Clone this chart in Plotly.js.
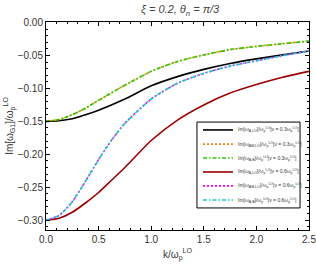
<!DOCTYPE html>
<html>
<head>
<meta charset="utf-8">
<script src="https://cdn.plot.ly/plotly-3.0.1.min.js"></script>
<style>html,body{margin:0;padding:0;background:#fff;}#plot{width:316px;height:273px;}</style>
</head>
<body>
<div id="plot"></div>
<script>
// k / omega_p^LO
const kA = [0, 0.125, 0.25, 0.375, 0.5, 0.75, 1.0, 1.25, 1.5, 1.75, 2.0, 2.25, 2.5];
// nu = 0.3
const blackY  = [-0.150, -0.149, -0.146, -0.140, -0.133, -0.116, -0.096, -0.082, -0.071, -0.062, -0.055, -0.049, -0.043];
const orangeY = [-0.150, -0.147, -0.140, -0.130, -0.118, -0.095, -0.074, -0.059, -0.049, -0.041, -0.036, -0.032, -0.028];
const greenY  = [-0.150, -0.147, -0.140, -0.130, -0.118, -0.095, -0.074, -0.059, -0.049, -0.041, -0.036, -0.032, -0.028];
// nu = 0.6
const kB = [0, 0.125, 0.25, 0.375, 0.5, 0.625, 0.75, 1.0, 1.25, 1.5, 1.75, 2.0, 2.25, 2.5];
const redY     = [-0.300, -0.297, -0.288, -0.274, -0.258, -0.239, -0.220, -0.179, -0.148, -0.125, -0.107, -0.094, -0.083, -0.074];
const magentaY = [-0.300, -0.293, -0.272, -0.241, -0.208, -0.178, -0.153, -0.116, -0.092, -0.077, -0.066, -0.058, -0.050, -0.043];
const cyanY    = [-0.300, -0.293, -0.272, -0.241, -0.208, -0.178, -0.153, -0.116, -0.092, -0.077, -0.066, -0.058, -0.050, -0.043];

const names = [
  "Im[ω<sub>A,LO</sub>]/ω<sub>p</sub><sup>LO</sup>[ν = 0.3ω<sub>p</sub><sup>LO</sup>]",
  "Im[ω<sub>AM,LO</sub>]/ω<sub>p</sub><sup>LO</sup>[ν = 0.3ω<sub>p</sub><sup>LO</sup>]",
  "Im[ω<sub>A,B</sub>]/ω<sub>p</sub><sup>LO</sup>[ν = 0.3ω<sub>p</sub><sup>LO</sup>]",
  "Im[ω<sub>A,LO</sub>]/ω<sub>p</sub><sup>LO</sup>[ν = 0.6ω<sub>p</sub><sup>LO</sup>]",
  "Im[ω<sub>AM,LO</sub>]/ω<sub>p</sub><sup>LO</sup>[ν = 0.6ω<sub>p</sub><sup>LO</sup>]",
  "Im[ω<sub>A,B</sub>]/ω<sub>p</sub><sup>LO</sup>[ν = 0.6ω<sub>p</sub><sup>LO</sup>]"
];
const colors = ['#000000', '#ff7f0e', '#22cc00', '#990000', '#ff00ff', '#11cccc'];
const dashes = ['solid', '2px,2px', '4px,2px,1.5px,2px', 'solid', '2px,2px', '4px,2px,1.5px,2px'];
const xs = [kA, kA, kA, kB, kB, kB];
const ys = [blackY, orangeY, greenY, redY, magentaY, cyanY];

const data = names.map((n, i) => ({
  x: xs[i], y: ys[i], name: n, type: 'scatter', mode: 'lines', showlegend: false,
  line: {color: colors[i], width: 1.6, dash: dashes[i], shape: 'spline', smoothing: 0.6}
}));

// manual legend (paper coordinates)
const legX0 = 0.574, legX1 = 0.966, legY0 = 0.106, legY1 = 0.519;
const sampX0 = 0.597, sampX1 = 0.711, textX = 0.724;
const rowY = [0.481, 0.413, 0.346, 0.279, 0.212, 0.144];

const shapes = [{type: 'rect', xref: 'paper', yref: 'paper', x0: legX0, x1: legX1, y0: legY0, y1: legY1,
  fillcolor: '#fff', line: {color: '#000', width: 1}}];
const annotations = [];
names.forEach((n, i) => {
  shapes.push({type: 'line', xref: 'paper', yref: 'paper', x0: sampX0, x1: sampX1, y0: rowY[i], y1: rowY[i],
    line: {color: colors[i], width: 1.6, dash: dashes[i]}});
  annotations.push({xref: 'paper', yref: 'paper', x: textX, y: rowY[i], xanchor: 'left', yanchor: 'middle',
    text: n, showarrow: false, font: {family: 'Liberation Sans, Arial, sans-serif', size: 5, color: '#333'}});
});

const axisCommon = {
  showline: true, linecolor: '#000', linewidth: 1, mirror: 'allticks',
  ticks: 'inside', ticklen: 4, tickwidth: 1, tickcolor: '#000',
  showgrid: false, zeroline: false, ticklabeloverflow: 'allow',
  tickfont: {family: 'Liberation Sans, Arial, sans-serif', size: 10, color: '#333'}
};

const layout = {
  width: 316, height: 273,
  margin: {l: 46, r: 7, t: 22, b: 43},
  paper_bgcolor: '#fff', plot_bgcolor: '#fff',
  title: {text: '<i>ξ = 0.2, θ<sub>n</sub> = π/3</i>', x: 0.57, xanchor: 'center', y: 0.965, yanchor: 'middle',
    font: {family: 'Liberation Sans, Arial, sans-serif', size: 11, color: '#444'}},
  xaxis: Object.assign({}, axisCommon, {
    range: [0, 2.5], dtick: 0.5, tick0: 0, tickformat: '.1f',
    minor: {dtick: 0.1, ticks: 'inside', ticklen: 2, tickcolor: '#000'},
    title: {text: 'k/ω<sub>p</sub><sup>LO</sup>', standoff: 6,
      font: {family: 'Liberation Sans, Arial, sans-serif', size: 10, color: '#333'}}
  }),
  yaxis: Object.assign({}, axisCommon, {
    range: [-0.315, 0.001], dtick: 0.05, tick0: 0, tickformat: '.2f',
    minor: {dtick: 0.01, ticks: 'inside', ticklen: 2, tickcolor: '#000'},
    title: {text: 'Im[ω<sub>G1</sub>]/ω<sub>p</sub><sup>LO</sup>', standoff: 2,
      font: {family: 'Liberation Sans, Arial, sans-serif', size: 10, color: '#333'}}
  }),
  showlegend: false,
  shapes: shapes,
  annotations: annotations
};

Plotly.newPlot('plot', data, layout, {displayModeBar: false, staticPlot: true});
</script>
</body>
</html>
